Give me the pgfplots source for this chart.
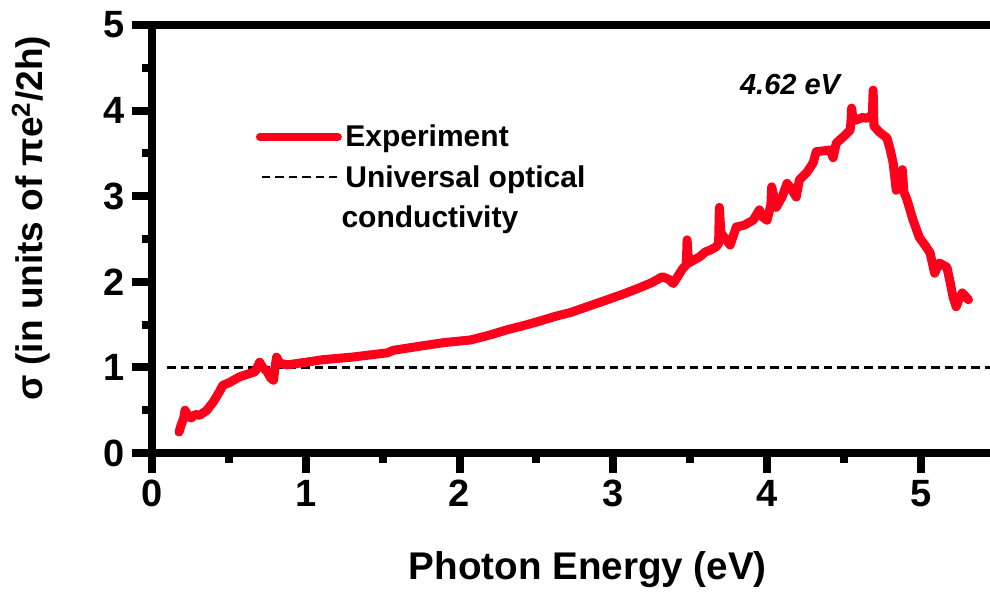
\documentclass[border=0pt]{standalone}
\usepackage{fontspec}
\setmainfont{Liberation Sans}
\usepackage{pgfplots}
\pgfplotsset{compat=1.18}
\definecolor{expred}{RGB}{255,0,28}
\begin{document}
\begin{tikzpicture}
\begin{axis}[
  scale only axis, width=419pt, height=214pt,
  xmin=0, xmax=5.45, ymin=0, ymax=5,
  axis x line*=bottom, axis y line*=left,
  axis line style={line width=4pt},
  xtick={0,1,2,3,4,5}, ytick={0,1,2,3,4,5},
  minor x tick num=1, minor y tick num=1,
  tick align=outside,
  major tick length=10pt, minor tick length=5pt,
  major tick style={black, line width=4pt},
  minor tick style={black, line width=4pt},
  /pgf/number format/assume math mode=true,
  tick label style={font=\fontsize{19}{19}\selectfont\bfseries},
  xlabel={Photon Energy (eV)},
  ylabel={σ (in units of πe\textsuperscript{2}/2h)},
  xlabel style={font=\fontsize{19.3}{19.3}\selectfont\bfseries, at={(axis description cs:0.52,-0.2734)}, anchor=center},
  ylabel style={font=\fontsize{18.5}{18.5}\selectfont\bfseries, at={(axis description cs:-0.1444,0.548)}, anchor=center},
  clip=false,
]
\addplot[black, line width=1.3pt, dash pattern=on 4.2pt off 2.5pt] coordinates {(0.1,1) (5.45,1)};
\addplot[expred, line width=4.5pt, line join=round, line cap=round] coordinates {
(0.176,0.245) (0.19,0.33) (0.205,0.40) (0.215,0.50) (0.235,0.43) (0.255,0.41)
(0.28,0.45) (0.31,0.44) (0.357,0.50) (0.40,0.60) (0.44,0.72) (0.46,0.79)
(0.50,0.82) (0.57,0.89) (0.62,0.92) (0.67,0.95) (0.70,1.06) (0.72,1.00)
(0.75,0.95) (0.77,0.88) (0.79,0.85) (0.80,1.00) (0.81,1.12) (0.83,1.05)
(0.88,1.03) (1.00,1.06) (1.11,1.09) (1.30,1.12) (1.53,1.17) (1.57,1.20)
(1.75,1.25) (1.90,1.29) (2.07,1.32) (2.20,1.38) (2.31,1.44) (2.42,1.49) (2.50,1.53) (2.63,1.60)
(2.72,1.64) (2.80,1.69) (2.88,1.74) (2.96,1.79) (3.07,1.86) (3.17,1.93) (3.25,1.99) (3.32,2.06) (3.36,2.03) (3.39,1.98)
(3.45,2.15) (3.475,2.20) (3.48,2.49) (3.49,2.22) (3.53,2.26) (3.56,2.29) (3.60,2.35) (3.63,2.37) (3.67,2.41) (3.685,2.45) (3.69,2.87)
(3.70,2.57) (3.73,2.50) (3.76,2.43) (3.80,2.64) (3.85,2.66) (3.91,2.72) (3.95,2.84) (3.97,2.76) (4.00,2.72)
(4.025,2.90) (4.03,3.11) (4.06,2.87) (4.10,3.00) (4.13,3.15) (4.16,3.08) (4.19,2.99) (4.21,3.19) (4.26,3.28) (4.30,3.39)
(4.32,3.52) (4.37,3.53) (4.41,3.54) (4.43,3.45) (4.45,3.62) (4.50,3.70) (4.54,3.77) (4.545,3.85) (4.55,4.03) (4.56,3.89) (4.58,3.89)
(4.62,3.92) (4.65,3.91) (4.685,3.95) (4.69,4.24) (4.695,3.82) (4.73,3.75) (4.78,3.68) (4.80,3.55) (4.82,3.39) (4.84,3.07)
(4.86,3.15) (4.88,3.31) (4.89,3.05) (4.91,2.96) (4.95,2.72) (4.99,2.52) (5.03,2.42) (5.06,2.34) (5.09,2.10)
(5.12,2.22) (5.17,2.17) (5.19,2.00) (5.21,1.82) (5.23,1.71) (5.25,1.80) (5.27,1.87) (5.31,1.79)
};
% top frame line
\draw[line width=4pt] ([xshift=-2pt]rel axis cs:0,1) -- (rel axis cs:1,1);
% legend
\draw[expred, line width=4pt, line cap=round] (axis cs:0.702,3.692) -- (axis cs:1.209,3.692);
\draw[black, line width=1.3pt, dash pattern=on 4.2pt off 2.5pt] (axis cs:0.715,3.224) -- (axis cs:1.203,3.224);
\node[anchor=base west, inner sep=0pt, font=\fontsize{15}{15}\selectfont\bfseries] at (axis cs:1.255,3.575) {Experiment};
\node[anchor=base west, inner sep=0pt, font=\fontsize{15}{15}\selectfont\bfseries] at (axis cs:1.255,3.107) {Universal optical};
\node[anchor=base west, inner sep=0pt, font=\fontsize{15}{15}\selectfont\bfseries] at (axis cs:1.23,2.640) {conductivity};
\node[anchor=center, inner sep=0pt, font=\fontsize{14.5}{14.5}\selectfont\bfseries\itshape] at (axis cs:4.15,4.31) {4.62 eV};
\end{axis}
\pgfresetboundingbox
\useasboundingbox (-76pt,-71pt) rectangle (419pt,226.5pt);
\end{tikzpicture}
\end{document}
